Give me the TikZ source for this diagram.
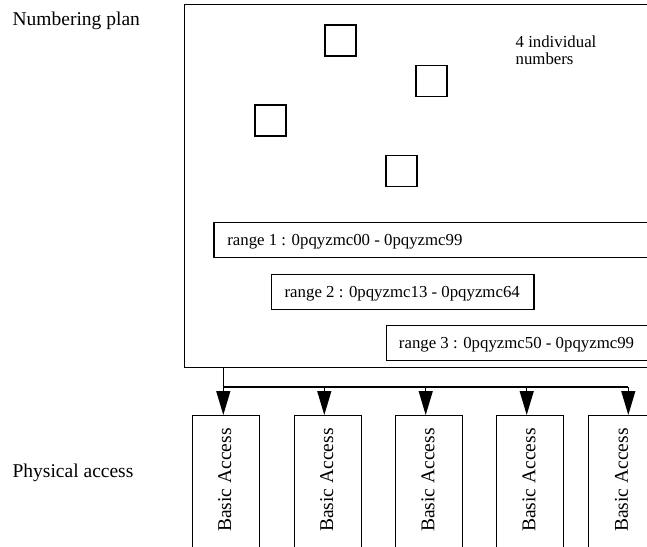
\documentclass[tikz,border=0pt]{standalone}
\usepackage{fontspec}
\setmainfont{Liberation Serif}
\usetikzlibrary{arrows.meta}
\begin{document}
\begin{tikzpicture}[x=1bp,y=-1bp,
  line width=1.3bp,
  box/.style={draw, rectangle, inner sep=0pt},
  numbox/.style={box, minimum width=31bp, minimum height=31bp},
  rangebox/.style={box, minimum width=460bp, minimum height=35bp, anchor=north west},
  accessbox/.style={box, minimum width=67bp, minimum height=150bp, anchor=north},
  small/.style={font=\fontsize{16.8bp}{16.7bp}\selectfont, inner sep=0pt},
  big/.style={font=\fontsize{19.5bp}{22bp}\selectfont, inner sep=0pt},
  feed/.style={-{Triangle[length=24bp,width=14bp]}},
]
\useasboundingbox (0,0) rectangle (647,547);
\clip (0,0) rectangle (647,547);

% side labels
\node[big, anchor=base west] (lplan) at (12,26) {Numbering plan};
\node[big, anchor=base west] (lphys) at (12,477) {Physical access};

% numbering plan frame
\node[box, minimum width=600bp, minimum height=363bp, anchor=north west] (plan) at (184,4) {};

% individual numbers
\node[numbox] (n1) at (340.5,40.5) {};
\node[numbox] (n2) at (431.5,81) {};
\node[numbox] (n3) at (270.5,120.5) {};
\node[numbox] (n4) at (401.5,171) {};
\node[small, anchor=north west, align=left] (nlabel) at (515,35) {4 individual\\numbers};

% number ranges
\node[rangebox] (r1) at (213.3,221.7) {};
\node[small, anchor=base west] (r1t) at (226.7,245.5) {range 1 : 0pqyzmc00 - 0pqyzmc99};
\node[rangebox, minimum width=262.6bp] (r2) at (270.7,274) {};
\node[small, anchor=base west] (r2t) at (284,297.3) {range 2 : 0pqyzmc13 - 0pqyzmc64};
\node[rangebox] (r3) at (385.7,325) {};
\node[small, anchor=base west] (r3t) at (398.3,348.5) {range 3 : 0pqyzmc50 - 0pqyzmc99};

% basic accesses
\node[accessbox] (a1) at (226,415) {};
\node[accessbox] (a2) at (328,415) {};
\node[accessbox] (a3) at (429.2,415) {};
\node[accessbox] (a4) at (530.3,415) {};
\node[accessbox] (a5) at (621.7,415) {};
\node[big, rotate=90] (t1) at (224.7,480) {Basic Access};
\node[big, rotate=90] (t2) at (326.7,480) {Basic Access};
\node[big, rotate=90] (t3) at (427.9,480) {Basic Access};
\node[big, rotate=90] (t4) at (529,480) {Basic Access};
\node[big, rotate=90] (t5) at (621.5,480) {Basic Access};

% distribution bus
\coordinate (d1) at (223.3,387);
\coordinate (d2) at (324.3,387);
\coordinate (d3) at (425.7,387);
\coordinate (d4) at (526.7,387);
\coordinate (d5) at (628.3,387);
\draw (plan.south -| d1) -- (d1) -- (d5);
\draw[feed] (d1) -- (d1 |- a1.north);
\draw[feed] (d2) -- (d2 |- a2.north);
\draw[feed] (d3) -- (d3 |- a3.north);
\draw[feed] (d4) -- (d4 |- a4.north);
\draw[feed] (d5) -- (d5 |- a5.north);
\end{tikzpicture}
\end{document}
